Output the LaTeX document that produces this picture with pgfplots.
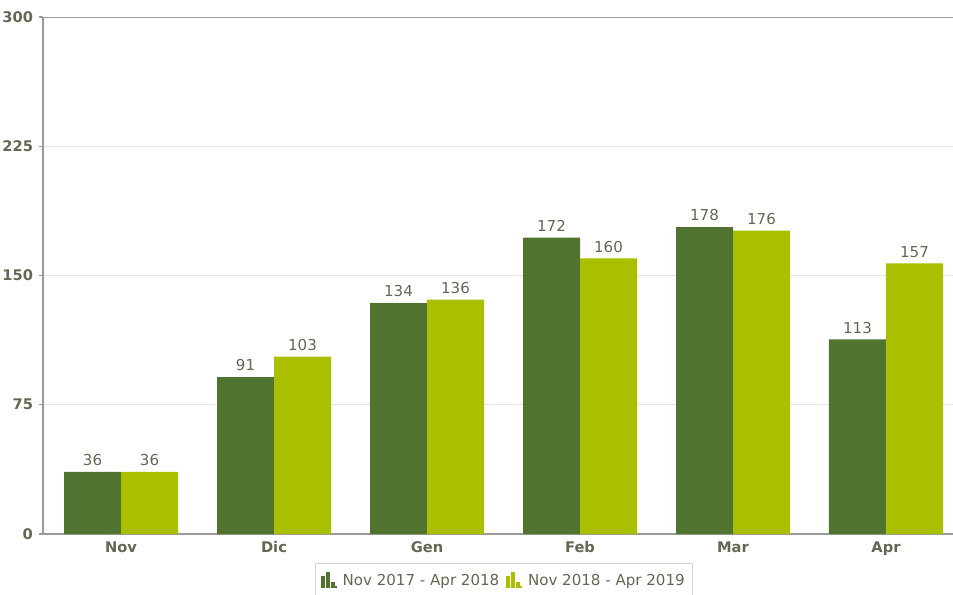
\documentclass[border=0pt]{standalone}
\usepackage{pgfplots}
\pgfplotsset{compat=1.18}
\usepackage{fontspec}
\setmainfont{DejaVu Sans}
\definecolor{darkgreen}{HTML}{50732F}
\definecolor{lightgreen}{HTML}{AABF00}
\definecolor{labelgray}{HTML}{666652}
\definecolor{axisgray}{HTML}{9A9A9A}
\definecolor{gridgray}{HTML}{E6E6E6}
\pgfplotsset{baricon/.style={legend image code/.code={
  \fill[##1] (0pt,-5pt) rectangle (3pt,4pt);
  \fill[##1] (3.8pt,-5pt) rectangle (6.8pt,7pt);
  \fill[##1] (7.6pt,-5pt) rectangle (10.6pt,-0.5pt);
  \fill[##1] (7.6pt,-5pt) rectangle (12pt,-3.8pt);}}}
\begin{document}
\begin{tikzpicture}
\useasboundingbox (-32.25pt,-45pt) rectangle (682.5pt,400.5pt);
\begin{axis}[
  at={(0pt,0pt)}, anchor=south west,
  scale only axis, width=682.5pt, height=387.75pt,
  xmin=-0.51, xmax=5.438, ymin=0, ymax=300,
  ybar=0pt, bar width=42.75pt,
  xtick={0,...,5}, xticklabels={Nov,Dic,Gen,Feb,Mar,Apr},
  ytick={0,75,150,225,300},
  ymajorgrids, grid style={gridgray, line width=0.75pt},
  axis x line*=bottom, axis y line*=left,
  axis line style={-, axisgray, line width=1.1pt},
  xtick style={draw=none},
  ytick style={axisgray, line width=0.8pt}, tick align=outside, major tick length=3pt,
  tick label style={font=\bfseries\fontsize{11}{13}\selectfont, text=labelgray},
  yticklabel style={xshift=-1pt},
  xticklabel style={yshift=1pt},
  /pgf/number format/assume math mode=true,
  nodes near coords,
  nodes near coords style={font=\fontsize{11.3}{13}\selectfont, text=labelgray, yshift=1pt},
  legend style={at={(0.5066,-0.0561)}, anchor=north, legend columns=-1,
    draw=gray!35, line width=0.8pt, font=\fontsize{11.3}{13}\selectfont, text=labelgray,
    inner xsep=4pt, inner ysep=6pt,
    /tikz/every even column/.append style={column sep=3pt}},
]
\addplot[fill=darkgreen, draw=none, baricon] coordinates {(0,36) (1,91) (2,134) (3,172) (4,178) (5,113)};
\addplot[fill=lightgreen, draw=none, baricon] coordinates {(0,36) (1,103) (2,136) (3,160) (4,176) (5,157)};
\legend{\hspace{2.5pt}Nov 2017 - Apr 2018, \hspace{2.5pt}Nov 2018 - Apr 2019}
\draw[axisgray, line width=1.1pt] (rel axis cs:0,1) -- (rel axis cs:1,1);
\end{axis}
\end{tikzpicture}
\end{document}
